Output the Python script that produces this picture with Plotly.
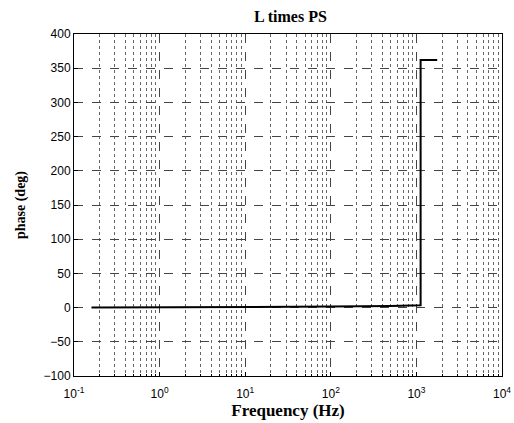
import plotly.graph_objects as go

freq_hz = [0.16, 1, 10, 100, 500, 1000, 1120, 1120, 1750]
phase_deg = [0.0, 0.3, 0.8, 1.5, 2.5, 3.0, 3.5, 362.0, 362.0]

x_tick_vals = [0.1, 1, 10, 100, 1000, 10000]
x_tick_text = ["10<sup>-1</sup>", "10<sup>0</sup>", "10<sup>1</sup>", "10<sup>2</sup>", "10<sup>3</sup>", "10<sup>4</sup>"]
x_minor_vals = [m * d for d in [0.1, 1, 10, 100, 1000] for m in range(2, 10)]
y_tick_vals = [-100, -50, 0, 50, 100, 150, 200, 250, 300, 350, 400]

fig = go.Figure()
fig.add_trace(go.Scatter(x=freq_hz, y=phase_deg, mode="lines",
                         line=dict(color="black", width=2), showlegend=False))

fig.update_layout(
    width=514, height=423,
    margin=dict(l=74, r=12, t=34, b=47),
    paper_bgcolor="white", plot_bgcolor="white",
    title=dict(text="<b>L times PS</b>", x=0.565, xanchor="center", y=0.975, yanchor="top",
               font=dict(family="Liberation Serif", size=16, color="black")),
    xaxis=dict(type="log", range=[-1, 4], tickvals=x_tick_vals, ticktext=x_tick_text,
               automargin=False, ticklabelstandoff=7,
               showline=True, mirror=True, linecolor="black", linewidth=1,
               ticks="inside", ticklen=4, tickcolor="black",
               showgrid=True, gridcolor="#444", gridwidth=1, griddash="dash",
               minor=dict(tickvals=x_minor_vals, showgrid=True, gridcolor="#666", gridwidth=1,
                          griddash="dot", ticks="inside", ticklen=2, tickcolor="black"),
               zeroline=False,
               tickfont=dict(family="Liberation Sans", size=12, color="black"),
               title=dict(text="<b>Frequency (Hz)</b>", standoff=0,
                          font=dict(family="Liberation Serif", size=17, color="black"))),
    yaxis=dict(range=[-100, 400], tickvals=y_tick_vals, automargin=False,
               showline=True, mirror=True, linecolor="black", linewidth=1,
               ticks="inside", ticklen=4, tickcolor="black",
               showgrid=True, gridcolor="#444", gridwidth=1, griddash="dash",
               zeroline=False,
               tickfont=dict(family="Liberation Sans", size=12, color="black"),
               title=dict(text="<b>phase (deg)</b>", standoff=14,
                          font=dict(family="Liberation Serif", size=14, color="black"))),
)

fig.write_html("out.html")
